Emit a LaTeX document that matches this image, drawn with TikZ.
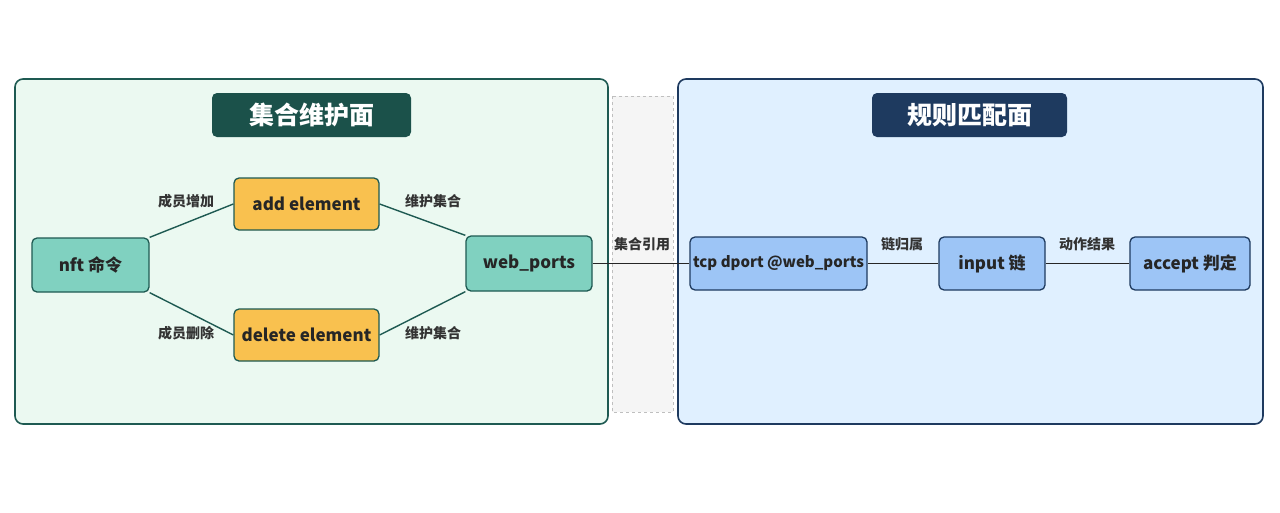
\documentclass[tikz,border=0pt]{standalone}
\usepackage{fontspec}
\setmainfont{Noto Sans CJK SC}
\begin{document}
\begin{tikzpicture}[x=1pt,y=-1pt,
 panel/.style={rounded corners=8pt,line width=1.6pt},
 title/.style={rounded corners=5pt,text=white,font=\fontsize{25}{27}\selectfont\bfseries,inner sep=0pt},
 box/.style={rounded corners=5pt,line width=1.3pt,font=\fontsize{17}{19}\selectfont\bfseries,inner sep=0pt,text=black!85},
 teal/.style={box,fill=tealf,draw=tealb},
 org/.style={box,fill=orgf,draw=tealb},
 blu/.style={box,fill=bluf,draw=blub},
 lab/.style={font=\fontsize{14}{16}\selectfont\bfseries,text=black!80,inner sep=1pt},
 edge/.style={line width=1.4pt,draw=tealb}]
\definecolor{tealf}{HTML}{80D1C0}\definecolor{tealb}{HTML}{1E5A52}
\definecolor{orgf}{HTML}{F9C14F}\definecolor{bluf}{HTML}{9DC5F6}\definecolor{blub}{HTML}{1E3A5F}
\useasboundingbox (0,0) rectangle (1280,512);
\fill[white] (0,0) rectangle (1280,512);
\draw[panel,fill=green!40!teal!8,draw=tealb] (15,79) rectangle (608,424);
\draw[fill=gray!8,draw=gray!50,dashed] (612,96) rectangle (673,412);
\draw[panel,fill=blue!50!cyan!12,draw=blub] (678,79) rectangle (1263,424);
\node[title,fill=tealb!90!black,minimum width=199pt,minimum height=44pt] (t1) at (311.5,115) {集合维护面};
\node[title,fill=blub,minimum width=195pt,minimum height=44pt] (t2) at (969.5,115) {规则匹配面};
\node[teal,minimum width=117pt,minimum height=54pt] (nft) at (90.5,265) {nft 命令};
\node[org,minimum width=145pt,minimum height=52pt] (add) at (306.5,204) {add element};
\node[org,minimum width=145pt,minimum height=52pt] (del) at (306.5,335) {delete element};
\node[teal,minimum width=126pt,minimum height=55pt] (web) at (529,263.5) {web\_ports};
\node[blu,minimum width=177pt,minimum height=53pt,font=\fontsize{15}{17}\selectfont\bfseries] (tcp) at (778.5,263.5) {tcp dport @web\_ports};
\node[blu,minimum width=106pt,minimum height=53pt] (inp) at (992,263.5) {input 链};
\node[blu,minimum width=120pt,minimum height=53pt] (acc) at (1190,263.5) {accept 判定};
\draw[edge] (nft.north east) -- (add.west);
\draw[edge] (nft.south east) -- (del.west);
\draw[edge] (add.east) -- (web.north west);
\draw[edge] (del.east) -- (web.south west);
\draw[edge,draw=black!85] (web.east) -- (tcp.west);
\draw[edge,draw=black!85] (tcp.east) -- (inp.west);
\draw[edge,draw=black!85] (inp.east) -- (acc.west);
\node[lab] (l1) at (186,201) {成员增加};
\node[lab] (l2) at (186,333) {成员删除};
\node[lab] (l3) at (433,201) {维护集合};
\node[lab] (l4) at (433,333) {维护集合};
\node[lab] (l5) at (642,244) {集合引用};
\node[lab] (l6) at (902,244) {链归属};
\node[lab] (l7) at (1087,244) {动作结果};
\end{tikzpicture}
\end{document}
